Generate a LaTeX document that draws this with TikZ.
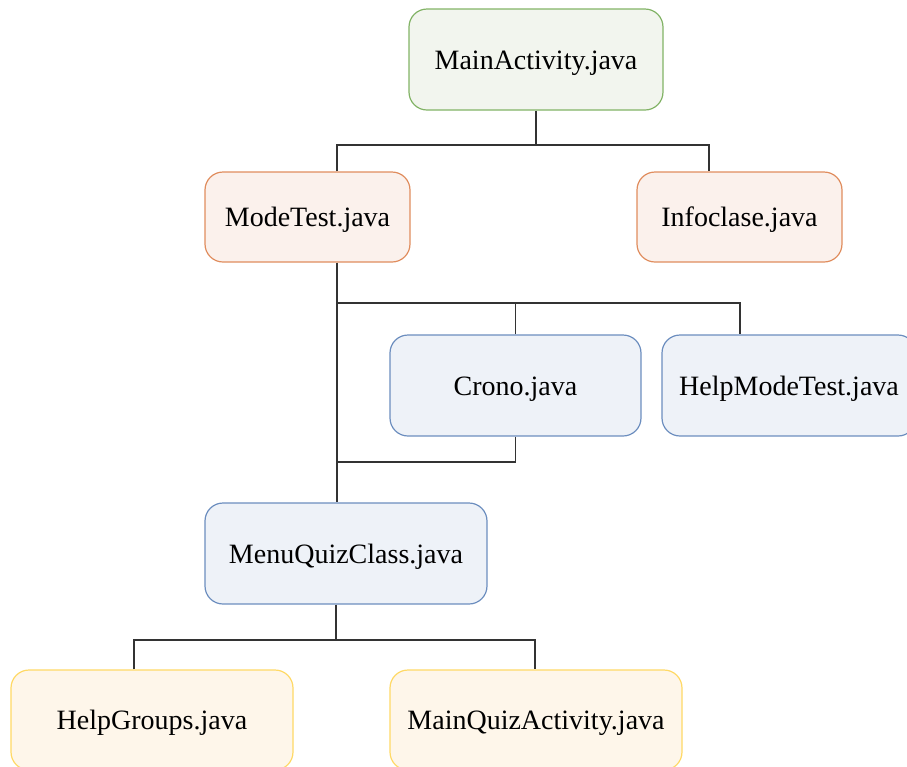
\documentclass[tikz,border=0pt]{standalone}
\usepackage{fontspec}
\setmainfont{Liberation Serif}
\usetikzlibrary{calc}
\definecolor{gfill}{HTML}{F2F5EE}\definecolor{gline}{HTML}{82B366}
\definecolor{ofill}{HTML}{FBF1EC}\definecolor{oline}{HTML}{E08D5E}
\definecolor{bfill}{HTML}{EEF2F8}\definecolor{bline}{HTML}{6C8EBF}
\definecolor{yfill}{HTML}{FEF6EA}\definecolor{yline}{HTML}{FFD966}
\definecolor{wire}{HTML}{333333}
\tikzset{
  cls/.style={draw, line width=0.6pt, rounded corners=9pt, inner sep=0pt,
    text height=1.1em, text depth=0.14em,
    font=\fontsize{14}{16}\selectfont, text=black},
  greenbox/.style={cls, draw=gline, fill=gfill},
  orangebox/.style={cls, draw=oline, fill=ofill},
  bluebox/.style={cls, draw=bline, fill=bfill},
  yellowbox/.style={cls, draw=yline, fill=yfill},
  conn/.style={draw=wire, line width=0.7pt},
}
\begin{document}
\begin{tikzpicture}[x=0.5pt, y=-0.5pt]
\useasboundingbox (0,0) rectangle (907,767);
\clip (0,0) rectangle (907,767);

% class boxes
\node[greenbox, minimum width=127pt, minimum height=50.5pt] (main) at (536,59.5) {MainActivity.java};
\node[orangebox, minimum width=102.5pt, minimum height=45pt] (mode) at (307.5,217) {ModeTest.java};
\node[orangebox, minimum width=102.5pt, minimum height=45pt] (info) at (739.5,217) {Infoclase.java};
\node[bluebox, minimum width=125.5pt, minimum height=50.5pt] (crono) at (515.5,385.5) {Crono.java};
\node[bluebox, minimum width=127pt, minimum height=50.5pt] (help) at (789,385.5) {HelpModeTest.java};
\node[bluebox, minimum width=141pt, minimum height=50.5pt] (menu) at (346,553.5) {MenuQuizClass.java};
\node[yellowbox, minimum width=141pt, minimum height=50pt] (groups) at (152,720) {HelpGroups.java};
\node[yellowbox, minimum width=146pt, minimum height=50pt] (quiz) at (536,720) {MainQuizActivity.java};

% junction points of the connectors
\coordinate (j1) at (536,145);
\coordinate (trunk) at (337,0);
\coordinate (j2) at (337,303);
\coordinate (j3) at (337,462);
\coordinate (j4) at (336,640);

% MainActivity -> ModeTest, Infoclase
\draw[conn] (main.south) -- (j1);
\draw[conn] (mode.north -| trunk) |- (j1) -| ($(info.north)+(-30.5,0)$);

% ModeTest -> MenuQuizClass, with Crono and HelpModeTest branching off
\draw[conn] (mode.south -| trunk) -- (menu.north -| trunk);
\draw[conn] (j2) -| ($(help.north)+(-49,0)$);
\draw[conn] (crono.north) -- (crono.north |- j2);
\draw[conn] (crono.south) |- (j3);

% MenuQuizClass -> HelpGroups, MainQuizActivity
\draw[conn] (menu.south -| j4) -- (j4);
\draw[conn] ($(groups.north)+(-18,0)$) |- (j4) -| ($(quiz.north)+(-1,0)$);
\end{tikzpicture}
\end{document}
